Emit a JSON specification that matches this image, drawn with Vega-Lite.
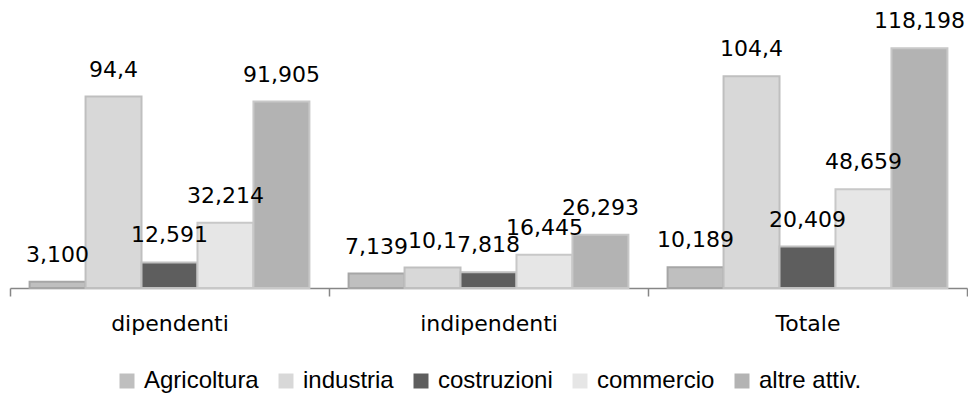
{
  "$schema": "https://vega.github.io/schema/vega-lite/v6.json",
  "width": 957,
  "height": 284,
  "autosize": {"type": "none"},
  "padding": {"left": 10, "top": 4, "right": 1, "bottom": 112},
  "background": "white",
  "data": {
    "values": [
      {"gruppo": "dipendenti", "settore": "Agricoltura", "valore": 3.1, "etichetta": "3,100"},
      {"gruppo": "dipendenti", "settore": "industria", "valore": 94.4, "etichetta": "94,4"},
      {"gruppo": "dipendenti", "settore": "costruzioni", "valore": 12.591, "etichetta": "12,591"},
      {"gruppo": "dipendenti", "settore": "commercio", "valore": 32.214, "etichetta": "32,214"},
      {"gruppo": "dipendenti", "settore": "altre attiv.", "valore": 91.905, "etichetta": "91,905"},
      {"gruppo": "indipendenti", "settore": "Agricoltura", "valore": 7.139, "etichetta": "7,139"},
      {"gruppo": "indipendenti", "settore": "industria", "valore": 10.1, "etichetta": "10,1"},
      {"gruppo": "indipendenti", "settore": "costruzioni", "valore": 7.818, "etichetta": "7,818"},
      {"gruppo": "indipendenti", "settore": "commercio", "valore": 16.445, "etichetta": "16,445"},
      {"gruppo": "indipendenti", "settore": "altre attiv.", "valore": 26.293, "etichetta": "26,293"},
      {"gruppo": "Totale", "settore": "Agricoltura", "valore": 10.189, "etichetta": "10,189"},
      {"gruppo": "Totale", "settore": "industria", "valore": 104.4, "etichetta": "104,4"},
      {"gruppo": "Totale", "settore": "costruzioni", "valore": 20.409, "etichetta": "20,409"},
      {"gruppo": "Totale", "settore": "commercio", "valore": 48.659, "etichetta": "48,659"},
      {"gruppo": "Totale", "settore": "altre attiv.", "valore": 118.198, "etichetta": "118,198"}
    ]
  },
  "encoding": {
    "x": {
      "field": "gruppo",
      "type": "nominal",
      "sort": ["dipendenti", "indipendenti", "Totale"],
      "scale": {"paddingInner": 0, "paddingOuter": 0},
      "axis": {
        "title": null,
        "labelAngle": 0,
        "domainColor": "#868686",
        "domainWidth": 1.5,
        "tickColor": "#868686",
        "tickWidth": 1.5,
        "tickSize": 8,
        "tickBand": "extent",
        "labelFont": "DejaVu Sans",
        "labelFontSize": 22,
        "labelColor": "#000000",
        "labelPadding": 17
      }
    },
    "xOffset": {
      "field": "settore",
      "type": "nominal",
      "sort": ["Agricoltura", "industria", "costruzioni", "commercio", "altre attiv."],
      "scale": {"paddingInner": 0, "paddingOuter": 0.35}
    },
    "y": {
      "field": "valore",
      "type": "quantitative",
      "scale": {"domain": [0, 140]},
      "axis": null
    }
  },
  "layer": [
    {
      "mark": {"type": "bar", "strokeWidth": 2},
      "encoding": {
        "fill": {
          "field": "settore",
          "type": "nominal",
          "sort": ["Agricoltura", "industria", "costruzioni", "commercio", "altre attiv."],
          "scale": {
            "domain": ["Agricoltura", "industria", "costruzioni", "commercio", "altre attiv."],
            "range": ["#bfbfbf", "#d8d8d8", "#5e5e5e", "#e6e6e6", "#b3b3b3"]
          },
          "legend": {
            "orient": "none",
            "legendX": 105,
            "legendY": 365,
            "direction": "horizontal",
            "title": null,
            "symbolType": "square",
            "symbolSize": 225,
            "symbolStrokeWidth": 0,
            "labelFont": "Liberation Sans",
            "labelFontSize": 24,
            "labelColor": "#000000",
            "labelOffset": 5,
            "labelLimit": 300,
            "columnPadding": 15
          }
        },
        "stroke": {
          "field": "settore",
          "type": "nominal",
          "scale": {
            "domain": ["Agricoltura", "industria", "costruzioni", "commercio", "altre attiv."],
            "range": ["#a6a6a6", "#bfbfbf", "#c0c0c0", "#c8c8c8", "#c8c8c8"]
          },
          "legend": null
        }
      }
    },
    {
      "mark": {"type": "text", "baseline": "bottom", "dy": -15, "font": "DejaVu Sans", "fontSize": 22, "color": "#000000"},
      "encoding": {"text": {"field": "etichetta", "type": "nominal"}}
    }
  ],
  "config": {"view": {"stroke": null}}
}
